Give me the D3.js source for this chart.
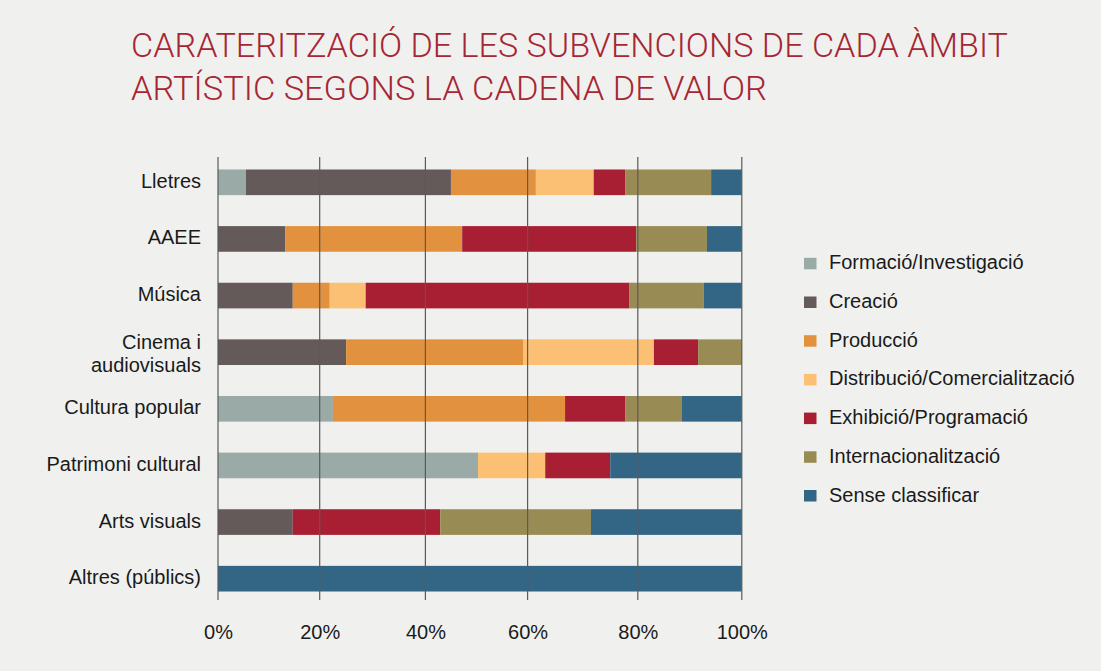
<!DOCTYPE html>
<html>
<head>
<meta charset="utf-8">
<script src="https://cdn.jsdelivr.net/npm/d3@7"></script>
<style>
  body { margin: 0; background: #f0f1ef; }
  svg { display: block; }
</style>
</head>
<body>
<div class="graph"></div>
<script>
// ambits (rows, top to bottom)
const categories = ['Lletres', 'AAEE', 'Música', 'Cinema i audiovisuals', 'Cultura popular',
    'Patrimoni cultural', 'Arts visuals', 'Altres (públics)'];

// stages of the value chain
const seriesNames = ['Formació/Investigació', 'Creació', 'Producció', 'Distribució/Comercialització',
    'Exhibició/Programació', 'Internacionalització', 'Sense classificar'];
const seriesColors = ['#9aaaa6', '#655a5a', '#e2913f', '#fbc073', '#a81e33', '#988b53', '#336585'];

// % per ambit, same order as categories
const formacio       = [5.5, 0, 0, 0, 22.5, 50.3, 0, 0];
const creacio        = [39.5, 13.2, 14.7, 25.0, 0, 0, 14.7, 0];
const produccio      = [16.5, 34.0, 7.2, 34.1, 44.3, 0, 0, 0];
const distribucio    = [10.5, 0, 6.8, 24.0, 0, 12.9, 0, 0];
const exhibicio      = [5.7, 32.5, 49.8, 8.5, 10.9, 11.8, 28.2, 0];
const internacional  = [16.4, 13.6, 14.2, 8.4, 10.8, 0, 28.6, 0];
const senseClass     = [5.9, 6.7, 7.3, 0, 11.5, 25.0, 28.5, 100];

const xTicks = [0, 20, 40, 60, 80, 100];
const titleLines = ['CARATERITZACIÓ DE LES SUBVENCIONS DE CADA ÀMBIT', 'ARTÍSTIC SEGONS LA CADENA DE VALOR'];

const allSeries = [formacio, creacio, produccio, distribucio, exhibicio, internacional, senseClass];

const svgDim = { w: 1101, h: 671 };
const svg = d3.select('.graph').append('svg')
    .attr('width', svgDim.w).attr('height', svgDim.h);

svg.append('rect').attr('width', svgDim.w).attr('height', svgDim.h).attr('fill', '#f0f1ef');

// title
const titleWidths = [877, 636];
svg.append('g').selectAll('text').data(titleLines).join('text')
    .attr('x', 131)
    .attr('y', (d, i) => 57.3 + i * 42.7)
    .attr('textLength', (d, i) => titleWidths[i])
    .attr('lengthAdjust', 'spacingAndGlyphs')
    .style('font-family', 'Roboto, "Liberation Sans", sans-serif')
    .style('font-weight', 300)
    .style('font-size', '34px')
    .style('fill', '#a72633')
    .text(d => d);

// the picture's gridlines are not evenly spaced, so the scale follows them
const xScale = d3.scaleLinear()
    .domain(xTicks)
    .range([218, 319.7, 425.4, 527.6, 637.8, 741.8]);

const yScale = d3.scaleBand()
    .domain(categories)
    .range([154, 607])
    .paddingInner(0.547)
    .paddingOuter(0.2735);

// stacked data
const table = categories.map((c, i) => {
    const row = { cat: c };
    seriesNames.forEach((s, j) => row[s] = allSeries[j][i]);
    return row;
});
const stacked = d3.stack().keys(seriesNames)(table);
const color = d3.scaleOrdinal().domain(seriesNames).range(seriesColors);

svg.append('g').selectAll('g').data(stacked).join('g')
    .attr('fill', d => color(d.key))
    .selectAll('rect').data(d => d).join('rect')
    .attr('x', d => xScale(d[0]))
    .attr('width', d => xScale(d[1]) - xScale(d[0]))
    .attr('y', d => yScale(d.data.cat))
    .attr('height', yScale.bandwidth());

// gridlines drawn on top
svg.append('g').selectAll('line').data(xTicks).join('line')
    .attr('x1', d => xScale(d)).attr('x2', d => xScale(d))
    .attr('y1', 157).attr('y2', 600)
    .attr('stroke', '#5a5a5a')
    .attr('stroke-width', 1.2);

// x tick labels
const xAxis = d3.axisBottom(xScale).tickValues(xTicks).tickFormat(d => d + '%').tickSize(0).tickPadding(0);
const gx = svg.append('g').attr('transform', 'translate(0,624)').call(xAxis).attr('id', 'x-axis');
gx.select('.domain').remove();
gx.selectAll('text')
    .attr('dy', 0).attr('y', 15)
    .style('font-family', '"Liberation Sans", Arial, sans-serif')
    .style('font-size', '20px')
    .style('fill', '#1a1a1a');

// y labels
const yAxis = d3.axisLeft(yScale).tickSize(0).tickPadding(0).tickFormat('');
const gy = svg.append('g').attr('transform', 'translate(201,0)').call(yAxis).attr('id', 'y-axis');
gy.select('.domain').remove();
gy.selectAll('.tick text').remove();
gy.selectAll('.tick').append('text')
    .attr('text-anchor', 'end')
    .style('font-family', '"Liberation Sans", Arial, sans-serif')
    .style('font-size', '20px')
    .style('fill', '#1a1a1a')
    .each(function (d) {
        const t = d3.select(this);
        if (d === 'Cinema i audiovisuals') {
            t.append('tspan').attr('x', 0).attr('y', -3).text('Cinema i');
            t.append('tspan').attr('x', 0).attr('y', 20).text('audiovisuals');
        } else {
            t.attr('y', 5.5).text(d);
        }
    });

// legend
const legend = svg.append('g').selectAll('g').data(seriesNames).join('g')
    .attr('transform', (d, i) => `translate(804,${269.3 + i * 38.7})`);
legend.append('rect')
    .attr('x', 0).attr('y', -11.5).attr('width', 12.5).attr('height', 11.5)
    .attr('fill', d => color(d));
legend.append('text')
    .attr('x', 25).attr('y', 0)
    .style('font-family', '"Liberation Sans", Arial, sans-serif')
    .style('font-size', '20px')
    .style('fill', '#1a1a1a')
    .text(d => d);
</script>
</body>
</html>
